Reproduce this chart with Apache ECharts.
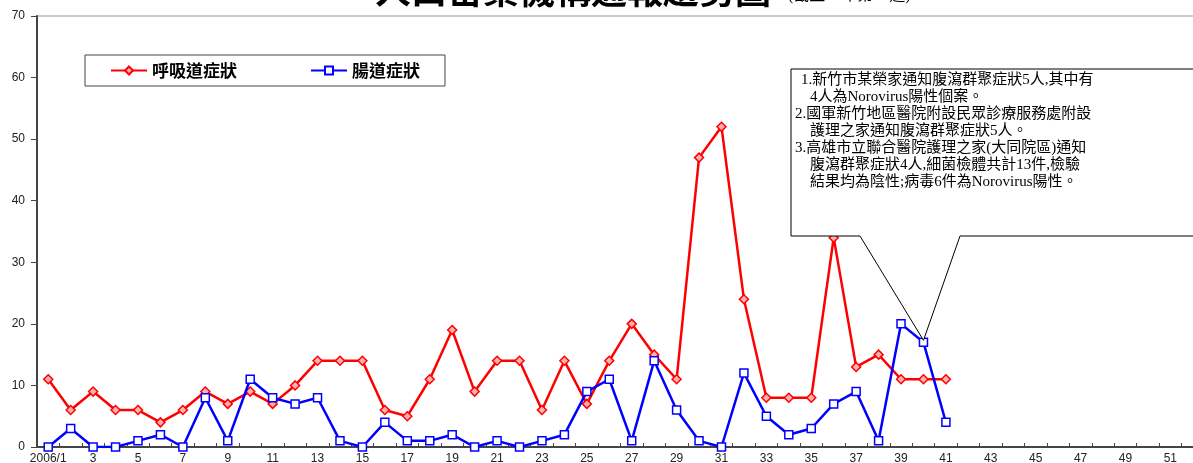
<!DOCTYPE html>
<html><head><meta charset="utf-8">
<script src="https://cdn.jsdelivr.net/npm/echarts@6/dist/echarts.min.js"></script>
<style>html,body{margin:0;padding:0;background:#fff}#c{width:1193px;height:463px}</style>
</head><body><div id="c"></div>
<script>
const weeks = ["2006/1","2","3","4","5","6","7","8","9","10","11","12","13","14","15","16","17","18","19","20","21","22","23","24","25","26","27","28","29","30","31","32","33","34","35","36","37","38","39","40","41","42","43","44","45","46","47","48","49","50","51","52"];
const respiratory = [11,6,9,6,6,4,6,9,7,9,7,10,14,14,14,6,5,11,19,9,14,14,6,14,7,14,20,15,11,47,52,24,8,8,8,34,13,15,11,11,11];
const enteric = [0,3,0,0,1,2,0,8,1,11,8,7,8,1,0,4,1,1,2,0,1,0,1,2,9,11,1,14,6,1,0,12,5,2,3,7,9,1,20,17,4];
const yTicks = [0,10,20,30,40,50,60,70];
const titleMain = "人口密集機構通報趨勢圖";
const titleSub = "(截至95年第41週)";
const noteLines = [
  "1.新竹市某榮家通知腹瀉群聚症狀5人,其中有",
  "4人為Norovirus陽性個案。",
  "2.國軍新竹地區醫院附設民眾診療服務處附設",
  "護理之家通知腹瀉群聚症狀5人。",
  "3.高雄市立聯合醫院護理之家(大同院區)通知",
  "腹瀉群聚症狀4人,細菌檢體共計13件,檢驗",
  "結果均為陰性;病毒6件為Norovirus陽性。"
];
const noteIndent = [801, 810, 795, 810, 795, 810, 810];
const noteAnchor = {series: 1, week: 40};

const chart = echarts.init(document.getElementById('c'));
const cjk = '"Noto Sans CJK TC","Noto Sans CJK SC",sans-serif';
const latin = 'Arial, "Liberation Sans", sans-serif';
chart.setOption({
  animation: false,
  backgroundColor: '#fff',
  grid: {left: 37, top: 16, width: 1167, height: 431, outerBoundsMode: 'none', containLabel: false,
         show: true, borderColor: '#999', borderWidth: 1, backgroundColor: 'transparent'},
  legend: {
    left: 85, top: 55, orient: 'horizontal',
    padding: [7, 25, 7, 25], itemGap: 73, itemWidth: 36, itemHeight: 10,
    borderColor: '#444', borderWidth: 1, backgroundColor: '#fff',
    textStyle: {fontFamily: cjk, fontSize: 17, fontWeight: 'bold', color: '#000'},
    data: ['呼吸道症狀', '腸道症狀']
  },
  xAxis: {
    type: 'category', data: weeks, boundaryGap: true,
    axisLine: {lineStyle: {color: '#444', width: 2}},
    axisTick: {show: true, inside: true, length: 4, interval: 0, lineStyle: {color: '#444'}},
    axisLabel: {interval: 1, fontSize: 12, color: '#222', margin: 6, fontFamily: latin}
  },
  yAxis: {
    type: 'value', min: yTicks[0], max: yTicks[yTicks.length-1], interval: 10,
    splitLine: {show: false},
    axisLine: {show: true, lineStyle: {color: '#444', width: 2}},
    axisTick: {show: true, inside: false, length: 6, lineStyle: {color: '#444'}},
    axisLabel: {fontSize: 12, color: '#222', margin: 12, fontFamily: latin}
  },
  series: [
    {name: '呼吸道症狀', type: 'line', data: respiratory, symbol: 'diamond', symbolSize: 9,
     lineStyle: {color: '#ff0000', width: 2.5},
     itemStyle: {color: '#ffb0b0', borderColor: '#ff0000', borderWidth: 1.5}, z: 3},
    {name: '腸道症狀', type: 'line', data: enteric, symbol: 'rect', symbolSize: 8,
     lineStyle: {color: '#0000ff', width: 2.5},
     itemStyle: {color: '#ffffff', borderColor: '#0000ff', borderWidth: 1.5}, z: 4}
  ]
});

const a = chart.convertToPixel({seriesIndex: noteAnchor.series}, [noteAnchor.week - 1, enteric[noteAnchor.week - 1]]);
const ax = a[0], ay = a[1] - 2;
const graphics = [
  {type: 'text', left: 375, top: -28, z: 10, style: {text: titleMain, font: 'bold 36px ' + cjk, fill: '#000'}},
  {type: 'text', left: 788, top: -12, z: 10, style: {text: titleSub, font: '16px "Liberation Serif",' + cjk, fill: '#000'}},
  {type: 'polygon', z: 5, shape: {points: [[791,69],[1200,69],[1200,236],[960,236],[ax,ay],[860,236],[791,236]]},
   style: {fill: '#fff', stroke: '#000', lineWidth: 1}}
];
noteLines.forEach((t, i) => {
  graphics.push({type: 'text', z: 6, x: noteIndent[i], y: 73 + i * 17,
    style: {text: t, font: '15px "Liberation Serif",' + cjk, fill: '#000', textVerticalAlign: 'top'}});
});
chart.setOption({graphic: graphics});
</script></body></html>
